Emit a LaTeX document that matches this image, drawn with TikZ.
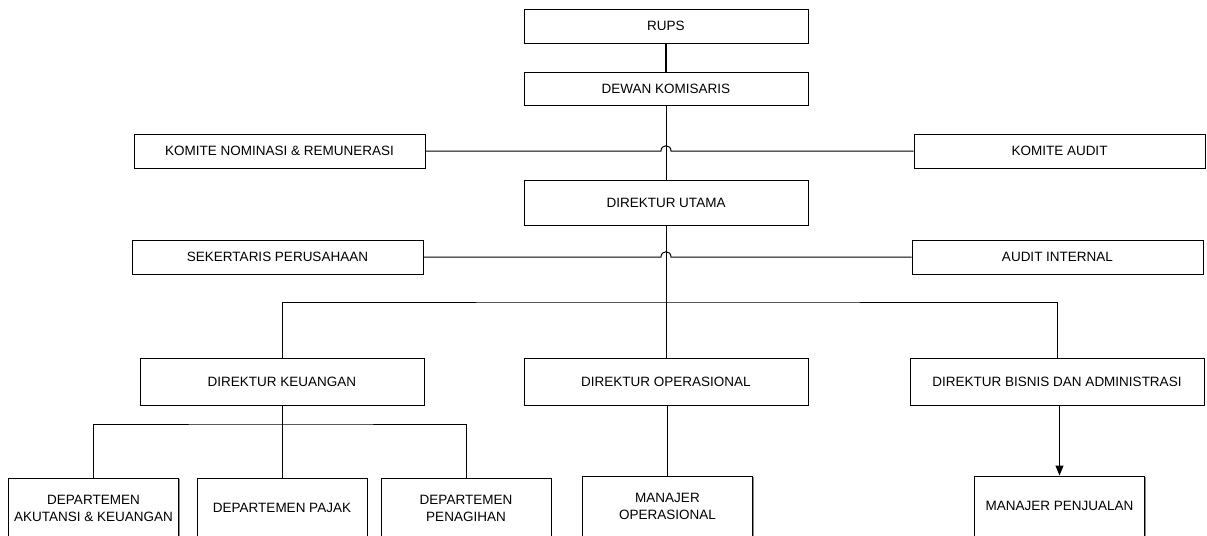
\documentclass[tikz,border=0pt]{standalone}
\usepackage{fontspec}
\setmainfont{Liberation Sans}
\usetikzlibrary{arrows.meta,shadows}

\begin{document}
\begin{tikzpicture}[x=0.5pt,y=-0.5pt,
	box/.style={draw,fill=white,line width=0.5pt,inner sep=1pt,align=center,
		font=\fontsize{6.75}{8.5}\selectfont,
		drop shadow={shadow xshift=0.5pt,shadow yshift=-0.5pt,fill=black!45,opacity=1}},
	wide/.style={box,minimum width=142pt,minimum height=17pt},
	side/.style={box,minimum width=145.5pt,minimum height=17pt},
	dept/.style={box,minimum width=85pt,minimum height=30pt,text depth=0pt},
	link/.style={line width=0.5pt}]
	\useasboundingbox (0,0) rectangle (1207,536);
	\clip (0,0) rectangle (1207,536);
	%
	\node[wide] (rups) at (666,26) {RUPS};
	\node[wide,minimum height=16.5pt] (dewan) at (666,88.5) {DEWAN KOMISARIS};
	\node[side] (komnom) at (279.5,151) {KOMITE NOMINASI \& REMUNERASI};
	\node[side] (komaud) at (1059.5,151) {KOMITE AUDIT};
	\node[wide,minimum height=22.5pt] (dirut) at (666,202.5) {DIREKTUR UTAMA};
	\node[side] (sekper) at (277.5,257) {SEKERTARIS PERUSAHAAN};
	\node[side] (audint) at (1057.5,257) {AUDIT INTERNAL};
	%
	\node[wide,minimum height=23.5pt] (dirkeu) at (282,381.5) {DIREKTUR KEUANGAN};
	\node[wide,minimum height=23.5pt] (dirop) at (666,381.5) {DIREKTUR OPERASIONAL};
	\node[wide,minimum width=147pt,minimum height=23.5pt] (dirbis) at (1057,381.5) {DIREKTUR BISNIS DAN ADMINISTRASI};
	%
	\node[dept] (depak) at (93.5,508) {DEPARTEMEN\\AKUTANSI \& KEUANGAN};
	\node[dept] (deppaj) at (282,508) {DEPARTEMEN PAJAK};
	\node[dept] (deppen) at (466,508) {DEPARTEMEN\\PENAGIHAN};
	\node[dept] (manop) at (667.5,506) {MANAJER\\OPERASIONAL};
	\node[dept] (manpen) at (1059.5,506) {MANAJER PENJUALAN};
	%
	\coordinate (split) at (666,302);
	\coordinate (keusplit) at (282,424);
	%
	\draw[line width=1pt] (rups.south) -- (dewan.north);
	\draw[link] (dewan.south) -- (dirut.north);
	\draw[link] (dirut.south) -- (split);
	% hops over the central line
	\draw[link] (komnom.east) -- (661,151) .. controls (661,144) and (671,144) .. (671,151) -- (komaud.west);
	\draw[link] (sekper.east) -- (661,257) .. controls (661,250) and (671,250) .. (671,257) -- (audint.west);
	%
	\draw[link] (dirkeu.north) |- (split) -| (dirbis.north);
	\draw[link] (split) -- (dirop.north);
	%
	\draw[link] (dirkeu.south) -- (keusplit);
	\draw[link] (depak.north) |- (keusplit) -| (deppen.north);
	\draw[link] (keusplit) -- (deppaj.north);
	\draw[link] (dirop.south -| manop.north) -- (manop.north);
	\draw[link,-{Triangle[length=5pt,width=4pt]}] (dirbis.south -| manpen.north) -- (manpen.north);
\end{tikzpicture}
\end{document}
